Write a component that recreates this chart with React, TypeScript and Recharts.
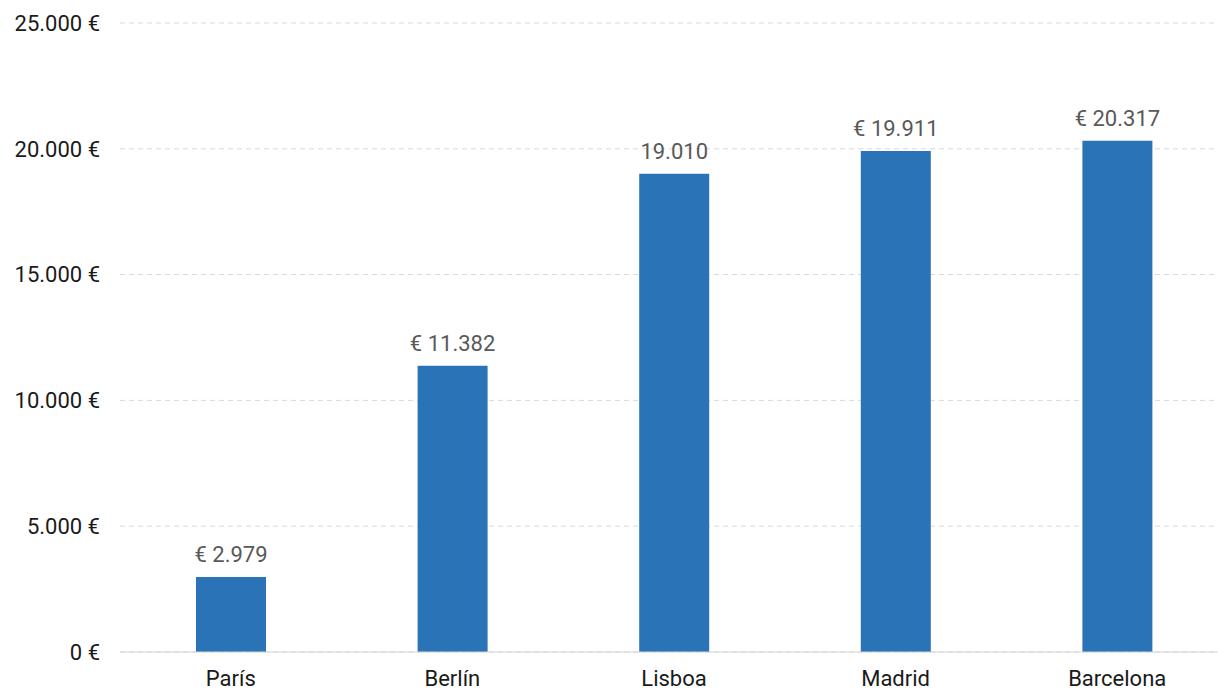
import React from "react";
import { BarChart, Bar, XAxis, YAxis, CartesianGrid, LabelList } from "recharts";

const cities = ["París", "Berlín", "Lisboa", "Madrid", "Barcelona"];
const values = [2979, 11382, 19010, 19911, 20317];
const valueLabels = ["€ 2.979", "€ 11.382", "19.010", "€ 19.911", "€ 20.317"];
const yTicks = [0, 5000, 10000, 15000, 20000, 25000];

const data = cities.map((c, i) => ({ city: c, value: values[i], label: valueLabels[i] }));

const fmt = (v: number) => v.toLocaleString("de-DE") + " €";
const FONT = "Roboto, sans-serif";

export default function App() {
  return (
    <div style={{ position: "absolute", left: 0, top: 0, width: 1218, height: 691, overflow: "hidden", background: "#fff" }}>
      <BarChart
        width={1228}
        height={691}
        data={data}
        margin={{ top: 23, right: 0, bottom: 0, left: 0 }}
        barSize={70}
      >
        <CartesianGrid vertical={false} stroke="#d9d9d9" strokeDasharray="5 4" />
        <XAxis
          dataKey="city"
          height={39}
          tickLine={false}
          tickSize={0}
          tickMargin={18}
          axisLine={{ stroke: "#d4d4d4", strokeWidth: 1 }}
          tick={{ fill: "#1a1a1a", fontSize: 22, fontFamily: FONT }}
          interval={0}
        />
        <YAxis
          width={120}
          domain={[0, 25000]}
          ticks={yTicks}
          tickFormatter={fmt}
          axisLine={false}
          tickLine={false}
          tickSize={0}
          tickMargin={20}
          tick={{ fill: "#1a1a1a", fontSize: 22, fontFamily: FONT }}
        />
        <Bar dataKey="value" fill="#2A73B7" isAnimationActive={false}>
          <LabelList
            dataKey="label"
            position="top"
            offset={15}
            fill="#595959"
            fontSize={22}
            fontFamily={FONT}
          />
        </Bar>
      </BarChart>
    </div>
  );
}
